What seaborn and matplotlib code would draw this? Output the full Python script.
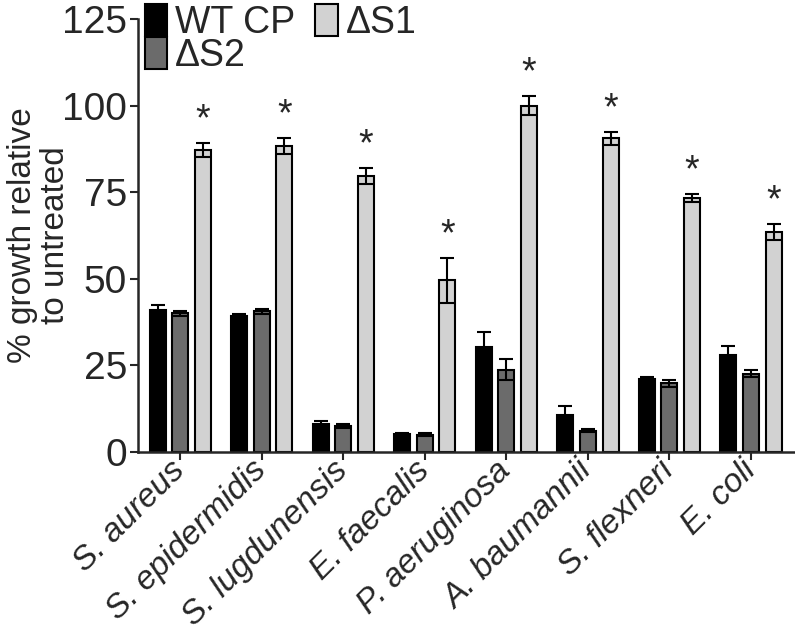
import matplotlib
matplotlib.use("Agg")
import matplotlib.pyplot as plt
import seaborn as sns
import pandas as pd
import numpy as np

species = ["S. aureus", "S. epidermidis", "S. lugdunensis", "E. faecalis",
           "P. aeruginosa", "A. baumannii", "S. flexneri", "E. coli"]
strains = ["WT CP", "\u0394S2", "\u0394S1"]

wt_mean = [41.0, 39.3, 8.0, 5.1, 30.2, 10.6, 21.0, 28.1]
wt_err = [1.3, 0.6, 1.0, 0.3, 4.5, 2.7, 0.7, 2.6]
s2_mean = [40.0, 40.6, 7.5, 5.0, 23.8, 6.2, 19.8, 22.6]
s2_err = [0.7, 0.8, 0.5, 0.4, 3.0, 0.5, 0.9, 1.0]
s1_mean = [87.2, 88.4, 79.6, 49.6, 100.0, 90.5, 73.3, 63.6]
s1_err = [2.0, 2.3, 2.3, 6.5, 2.8, 2.0, 1.2, 2.3]

colors = ["#000000", "#6b6b6b", "#d2d2d2"]

df = pd.DataFrame({
    "species": species * 3,
    "strain": [strains[0]] * 8 + [strains[1]] * 8 + [strains[2]] * 8,
    "value": wt_mean + s2_mean + s1_mean,
    "err": wt_err + s2_err + s1_err,
})

sns.set_style("ticks")
plt.rcParams["font.family"] = ["Liberation Sans", "DejaVu Sans"]

fig = plt.figure(figsize=(7.95, 6.31), dpi=100)
ax = fig.add_axes([0.1736, 0.2837, 0.8264, 0.6863])

sns.barplot(data=df, x="species", y="value", hue="strain", order=species,
            hue_order=strains, palette=colors, errorbar=None, width=0.83,
            gap=0.29, edgecolor="black", linewidth=1.5, ax=ax)

# error bars and stars from the drawn bars
bars = [p for p in ax.patches if p.get_height() > 0][:24]
errs = wt_err + s2_err + s1_err
for i, p in enumerate(bars):
    xc = p.get_x() + p.get_width() / 2
    h = p.get_height()
    ax.errorbar(xc, h, yerr=errs[i], color="black", capsize=5, capthick=1.5,
                elinewidth=1.5, lw=0)
    if i >= 16:
        ax.text(xc, h + errs[i] + 1.3, "*", ha="center", va="bottom",
                fontsize=27)

ax.set_ylim(0, 125)
ax.set_yticks([0, 25, 50, 75, 100, 125])
ax.set_xlim(-0.52, 7.54)
ax.set_xlabel("")
ax.set_ylabel("% growth relative\nto untreated", fontsize=24, linespacing=1.1)
ax.yaxis.set_label_coords(-0.102, 0.5)
ax.tick_params(axis="y", labelsize=28, width=1.5, length=6, pad=2)
ax.tick_params(axis="x", labelsize=24, width=1.5, length=6, pad=4)
ax.set_xticks(range(len(species)))
ax.set_xticklabels(species, rotation=45, ha="right", va="center",
                   rotation_mode="anchor", style="italic")
for s in ["left", "bottom"]:
    ax.spines[s].set_linewidth(1.8)
sns.despine(ax=ax)

handles, labels = ax.get_legend_handles_labels()
ax.legend(handles, labels, ncol=2, frameon=False, loc="upper left",
          bbox_to_anchor=(0.01, 1.035), fontsize=27, handlelength=0.6,
          handleheight=0.95, handletextpad=0.2, columnspacing=0.55,
          labelspacing=-0.1, borderaxespad=0.0, borderpad=0.0)

fig.savefig("out.png", dpi=100)
